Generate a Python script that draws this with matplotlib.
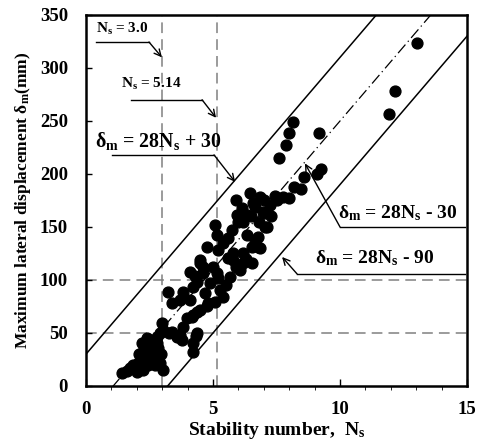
import matplotlib
matplotlib.use('Agg')
import matplotlib.pyplot as plt
import numpy as np

plt.rcParams['font.family'] = ['Liberation Serif', 'DejaVu Serif']
plt.rcParams['font.weight'] = 'bold'
plt.rcParams['mathtext.fontset'] = 'custom'
plt.rcParams['mathtext.rm'] = 'Liberation Serif:bold'
plt.rcParams['mathtext.it'] = 'Liberation Serif:bold'
plt.rcParams['mathtext.bf'] = 'Liberation Serif:bold'

# measured points: stability number vs max lateral displacement (mm)
ns = [1.42, 1.6, 1.73, 1.85, 2.0, 2.05, 2.2, 2.24, 2.32, 2.44, 2.5, 2.6, 2.72, 2.6, 2.83,
      2.2, 2.52, 2.8, 2.8, 2.4, 2.91, 2.95, 3.03, 2.9, 2.1, 2.35, 2.7,
      2.99, 3.03, 3.25, 3.58, 3.78, 4.21, 4.35, 4.21, 3.39, 3.7, 4.37, 3.82, 3.98, 4.21,
      4.49, 4.76, 4.37, 4.8, 5.08, 4.17, 3.39, 3.7, 4.09, 5.39, 3.23, 3.82, 4.21, 5.28,
      4.37, 4.88, 5.2, 4.09, 4.6, 5.16, 5.67, 6.06, 4.49, 5.79, 6.18, 4.49, 5.59, 6.18,
      4.76, 5.2, 6.54, 6.85, 5.16, 5.08, 5.75, 6.34, 6.77, 7.13, 5.94, 6.34, 6.14, 6.57,
      6.97, 6.65, 7.05, 7.24, 6.46, 6.85, 7.44, 7.52, 7.76, 8.0, 8.19, 8.46, 8.58, 9.1,
      9.25, 7.6, 7.87, 7.99, 8.15, 9.17, 11.93, 12.17, 13.02,
      7.05, 6.65, 6.77, 6.54, 5.0, 5.4, 6.0, 5.9, 4.7,
      6.2, 6.5, 6.8, 7.3, 7.0, 5.6, 5.8, 6.3, 4.6, 4.3, 5.5, 5.9, 2.3, 2.65]
dm = [12, 14, 17, 20, 13, 22, 18, 15, 25, 20, 28, 31, 26, 37, 36,
      41, 43, 41, 46, 45, 50, 30, 15, 22, 30, 33, 20,
      59, 53, 50, 46, 43, 41, 47, 32, 51, 48, 50, 56, 64, 67,
      72, 75, 70, 78, 79, 65, 78, 81, 81, 84, 89, 89, 93, 91,
      98, 97, 102, 108, 107, 107, 103, 109, 116, 119, 116, 119, 121, 125,
      131, 128, 131, 130, 142, 152, 147, 142, 141, 150, 161, 161, 168, 173,
      164, 169, 163, 171, 182, 178, 179, 175, 178, 177, 188, 186, 197, 200,
      205, 215, 227, 239, 249, 239, 257, 278, 324,
      150, 138, 131, 116, 112, 135, 155, 175, 88,
      155, 160, 155, 160, 175, 140, 125, 120, 112, 104, 95, 112, 35, 40]

# guide lines: delta_m = 28 Ns + c
slope = 28
offsets = [30, -30, -90]

fig = plt.figure(figsize=(4.79, 4.43), dpi=100)
ax = fig.add_axes([0.1795, 0.1287, 0.7955, 0.8375])

xx = np.linspace(0, 15, 200)
ax.plot(xx, slope * xx + offsets[0], color='black', lw=1.1)
ax.plot(xx, slope * xx + offsets[1], color='black', lw=0.9, ls=(0, (9, 3, 1, 3)))
ax.plot(xx, slope * xx + offsets[2], color='black', lw=1.1)

for xv in [3.0, 5.14]:
    ax.axvline(xv, color='#808080', lw=1.1, ls=(0, (7, 4)), zorder=0)
for yv in [50, 100]:
    ax.axhline(yv, color='#808080', lw=1.1, ls=(0, (7, 4)), zorder=0)

ax.plot(ns, dm, 'o', color='black', markersize=7.8, zorder=3)

# annotations with bent leader lines
def leader(text, tx, ty, x0, x1, y, tip, size):
    ax.text(tx, ty, text, fontsize=size, fontweight='bold', va='baseline', ha='left')
    ax.plot([x0, x1], [y, y], color='black', lw=1.0)
    ax.annotate('', xy=tip, xytext=(x1, y),
                arrowprops=dict(arrowstyle='->', color='black', lw=1.0,
                                shrinkA=0, shrinkB=0, mutation_scale=12))

leader('N$_\\mathrm{s}$ = 3.0', 0.39, 333, 0.39, 2.48, 324.5, (2.99, 310), 11)
leader('N$_\\mathrm{s}$ = 5.14', 1.38, 281, 1.77, 4.57, 270, (5.12, 253), 11)
leader('δ$_\\mathrm{m}$ = 28N$_\\mathrm{s}$ + 30', 0.35, 225.5, 1.02, 5.04, 218, (5.87, 192.5), 14.3)
leader('δ$_\\mathrm{m}$ = 28N$_\\mathrm{s}$ - 30', 9.92, 158, 14.92, 10.0, 150, (8.62, 210), 14)
leader('δ$_\\mathrm{m}$ = 28N$_\\mathrm{s}$ - 90', 9.0, 116, 14.92, 8.31, 105.7, (7.72, 121.7), 14)

ax.set_xlim(0, 15)
ax.set_ylim(0, 350)
ax.set_xticks([0, 5, 10, 15])
ax.set_xticks(np.arange(0, 16, 1), minor=True)
ax.set_yticks(np.arange(0, 351, 50))
ax.tick_params(axis='both', direction='in', labelsize=13.5, width=1.0)
ax.tick_params(axis='x', which='major', length=5, pad=11)
ax.tick_params(axis='x', which='minor', length=3)
ax.tick_params(axis='y', which='major', length=4, pad=13)
for lab in ax.get_xticklabels() + ax.get_yticklabels():
    lab.set_fontweight('bold')
for sp in ax.spines.values():
    sp.set_linewidth(1.8)

ax.set_xlabel('Stability number,  N$_\\mathrm{s}$', fontsize=14, fontweight='bold', labelpad=1)
ax.set_ylabel('Maximum lateral displacement δ$_\\mathrm{m}$(mm)', fontsize=12.5,
              fontweight='bold', labelpad=5)

fig.savefig('out.png', dpi=100)
